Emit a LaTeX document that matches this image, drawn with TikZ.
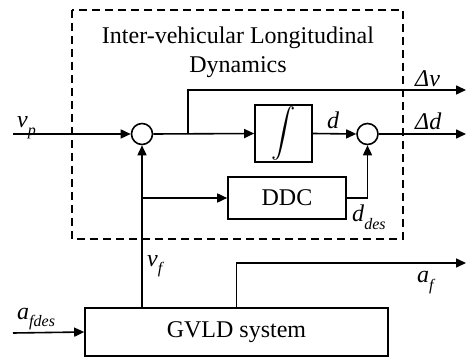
\documentclass[tikz,border=0pt]{standalone}
\usepackage{fontspec}
\usepackage{graphicx}
\setmainfont{Liberation Serif}
\usetikzlibrary{arrows.meta}
\newcommand{\sbs}[1]{\raisebox{-0.3em}{\fontsize{16}{16}\selectfont\textit{#1}}}
\tikzset{
  every node/.style={font=\fontsize{24}{28}\selectfont, inner sep=0pt},
  wire/.style={line width=1.6pt},
  arr/.style={wire, -{Triangle[length=10pt,width=9pt]}},
  blk/.style={draw, line width=1.6pt, minimum width=#1},
  sumc/.style={draw, circle, line width=1.6pt, minimum size=21pt},
  lbl/.style={anchor=base west}
}
\begin{document}
\begin{tikzpicture}[x=1pt,y=-1pt]
\useasboundingbox (0,0) rectangle (466,358);
% dashed frame
\draw[line width=1.6pt, dash pattern=on 8pt off 5pt] (72,10) rectangle (403,239);
\node[anchor=base] (t1) at (238,44) {Inter-vehicular Longitudinal};
\node[anchor=base] (t2) at (238,73) {Dynamics};
% blocks
\node[sumc] (s1) at (142,134) {};
\node[sumc] (s2) at (367.5,134) {};
\node[blk=57pt, minimum height=57pt] (int) at (283.5,133.5) {\resizebox{!}{42pt}{$\displaystyle\int$}};
\node[blk=118pt, minimum height=42pt] (ddc) at (287,198) {DDC};
\node[blk=303pt, minimum height=48pt] (gvld) at (236.5,332) {GVLD system};
% free ends
\coordinate (vpin) at (13,134);
\coordinate (dvout) at (466,90);
\coordinate (ddout) at (466,134);
\coordinate (afout) at (466,263);
\coordinate (afdin) at (13,333);
\coordinate (br) at (188,134);
% connectors
\draw[arr] (vpin) -- (s1.west);
\draw[arr] (s1.east) -- (int.west);
\draw[arr] (br) |- (dvout);
\draw[arr] (int.east) -- (s2.west);
\draw[arr] (s2.east) -- (ddout);
\draw[arr] (s1 |- gvld.north) -- (s1.south);
\draw[arr] (s1 |- ddc.west) -- (ddc.west);
\draw[arr] (ddc.east) -| (s2.south);
\draw[arr] (gvld.north) |- (afout);
\draw[arr] (afdin) -- (gvld.west);
% labels
\node[lbl] (lvp) at (17,128) {\textit{v}\sbs{p}};
\node[lbl] (ldv) at (415,87) {\textit{Δv}};
\node[lbl] (ldd) at (415,130) {\textit{Δd}};
\node[lbl] (ld) at (327,129) {\textit{d}};
\node[lbl] (lddes) at (352,222) {\textit{d}\sbs{des}};
\node[lbl] (lvf) at (147,266) {\textit{v}\sbs{f}};
\node[lbl] (laf) at (417,283) {\textit{a}\sbs{f}};
\node[lbl] (lafd) at (17,319) {\textit{a}\sbs{fdes}};
\end{tikzpicture}
\end{document}
